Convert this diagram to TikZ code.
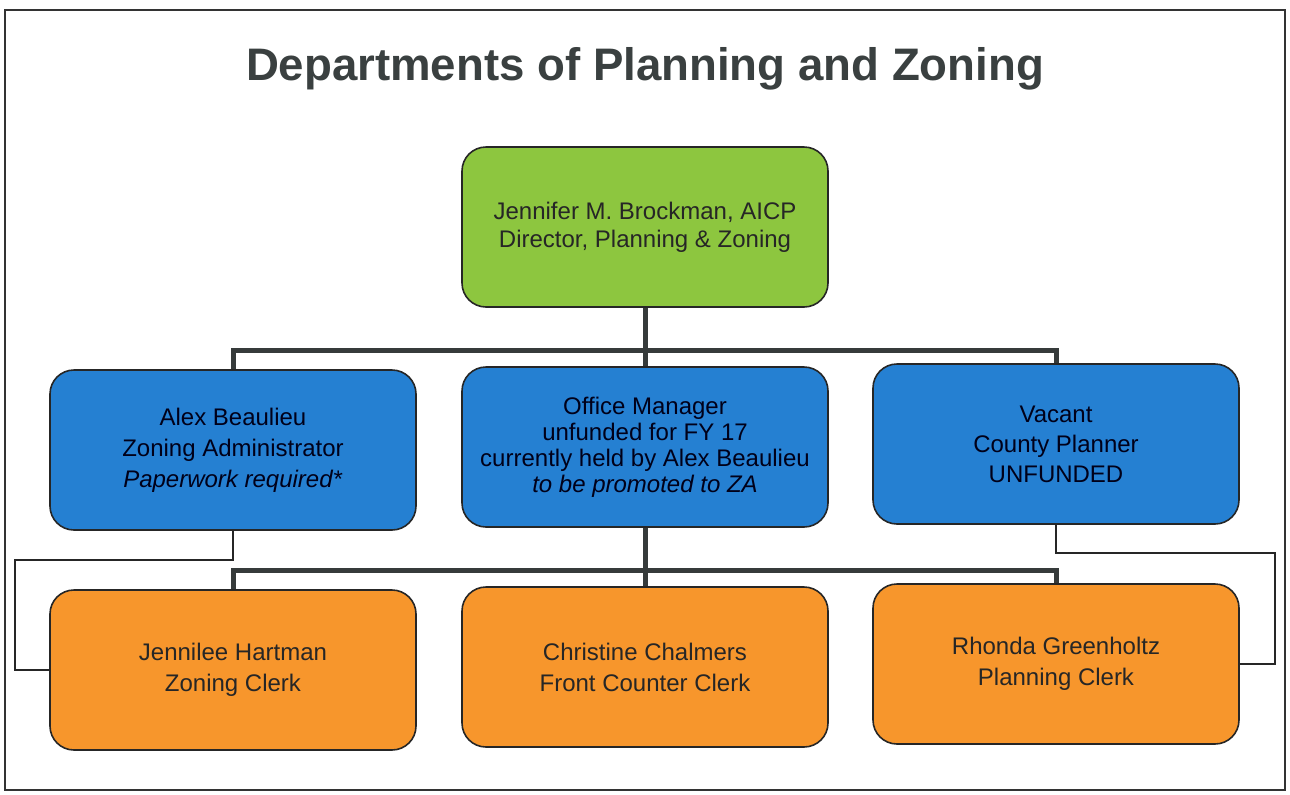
\documentclass[tikz,border=0pt]{standalone}
\usepackage{fontspec}
\setmainfont{Liberation Sans}
\usepackage{tikz}
\usetikzlibrary{positioning}

\definecolor{dirgreen}{HTML}{8DC63F}
\definecolor{midblue}{HTML}{2580D2}
\definecolor{clerkorange}{HTML}{F7962C}
\definecolor{linegray}{HTML}{363B3B}
\definecolor{titlegray}{HTML}{3A4040}

\tikzset{
  orgbox/.style={draw=black!85, line width=0.8pt, rounded corners=12pt,
    minimum width=183pt, minimum height=80pt, inner sep=0pt,
    align=center, font=\fontsize{12}{14}\selectfont, text=black!85},
  dirbox/.style={orgbox, fill=dirgreen},
  mgrbox/.style={orgbox, fill=midblue, text=black!90!blue},
  clerkbox/.style={orgbox, fill=clerkorange},
  trunk/.style={draw=linegray, line width=2.5pt},
  sidelink/.style={draw=black!85, line width=0.75pt}
}

\begin{document}
\begin{tikzpicture}[x=0.5pt, y=-0.5pt]
            \useasboundingbox (0,0) rectangle (1290,794);
            \draw[black!80, line width=0.7pt] (5,10) rectangle (1285,790);

            \draw (645,80) node[anchor=base, text=titlegray, font=\fontsize{22.8}{27}\bfseries] (title) {Departments of Planning and Zoning};

            \draw (645,227) node[dirbox]                  (dir) {Jennifer M. Brockman, AICP\\Director, Planning \& Zoning};

            \draw (233,450) node[mgrbox, font=\fontsize{12}{15.5}\selectfont]   (za) {Alex Beaulieu\\Zoning Administrator\\\textit{Paperwork required*}};
            \draw (645,447) node[mgrbox, font=\fontsize{12}{13}\selectfont]   (om) {Office Manager\\unfunded for FY 17\\currently held by Alex Beaulieu\\\textit{to be promoted to ZA}};
            \draw (1056,444) node[mgrbox, font=\fontsize{12}{15}\selectfont]  (cp) {Vacant\\County Planner\\UNFUNDED};

            \draw (233,670) node[clerkbox, font=\fontsize{12}{15.5}\selectfont] (zc) {Jennilee Hartman\\Zoning Clerk};
            \draw (645,667) node[clerkbox, font=\fontsize{12}{15.5}\selectfont] (fc) {Christine Chalmers\\Front Counter Clerk};
            \draw (1056,664) node[clerkbox, font=\fontsize{12}{15.5}\selectfont] (pc) {Rhonda Greenholtz\\Planning Clerk};

            \coordinate (bus1) at (645,350);
            \coordinate (bus2) at (645,570);
            \coordinate (lhook) at (15,560);
            \coordinate (rhook) at (1275,553);

            \draw[trunk] (dir.south) -- (bus1);
            \draw[trunk] (za.north) |- (bus1) -| (cp.north);
            \draw[trunk] (bus1) -- (om.north);

            \draw[trunk] (om.south) -- (bus2);
            \draw[trunk] (zc.north) |- (bus2) -| (pc.north);
            \draw[trunk] (bus2) -- (fc.north);

            \draw[sidelink] (za.south) |- (lhook) |- (zc.west);
            \draw[sidelink] (cp.south) |- (rhook) |- (pc.east);

            \end{tikzpicture}
\end{document}
